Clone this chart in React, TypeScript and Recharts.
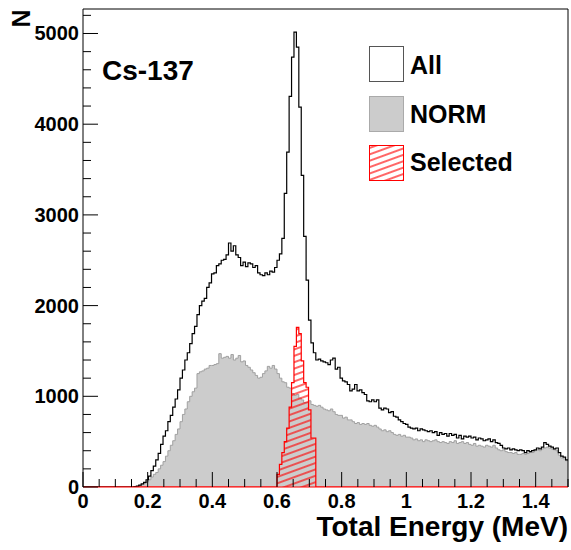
import React from "react";
import {
  ComposedChart,
  Area,
  Line,
  XAxis,
  YAxis,
  ReferenceLine,
} from "recharts";

// 200 bins of 0.0075 MeV between 0 and 1.5 MeV
const binWidth = 0.0075;
const xMax = 1.5;
const yMax = 5270;

const allCounts = [
  0, 0, 0, 0, 0, 0, 0, 0, 0, 0,
  0, 0, 0, 0, 0, 0, 0, 0, 0, 0,
  0, 5, 10, 20, 35, 50, 80, 120, 180, 230,
  300, 370, 470, 560, 620, 720, 790, 880, 970, 1070,
  1200, 1290, 1400, 1480, 1580, 1690, 1770, 1900, 2000, 2050,
  2080, 2200, 2250, 2350, 2360, 2440, 2460, 2500, 2510, 2560,
  2690, 2600, 2660, 2560, 2530, 2440, 2480, 2430, 2470, 2460,
  2420, 2440, 2360, 2340, 2330, 2360, 2340, 2380, 2370, 2420,
  2500, 2570, 2742, 3238, 3693, 4306, 4739, 5015, 4849, 4188,
  3436, 2764, 2280, 1840, 1590, 1480, 1400, 1410, 1390, 1380,
  1370, 1350, 1400, 1420, 1300, 1320, 1200, 1170, 1160, 1130,
  1060, 1080, 1130, 1060, 1070, 1040, 1020, 950, 940, 960,
  940, 960, 870, 850, 870, 860, 820, 830, 780, 770,
  740, 720, 700, 690, 660, 650, 640, 650, 620, 640,
  630, 620, 610, 620, 600, 610, 570, 600, 580, 590,
  560, 590, 570, 580, 540, 570, 530, 560, 550, 560,
  540, 550, 520, 540, 530, 510, 520, 530, 500, 520,
  490, 480, 460, 430, 420, 430, 410, 420, 410, 400,
  410, 400, 380, 400, 390, 400, 410, 430, 420, 440,
  490, 470, 450, 440, 420, 430, 380, 340, 330, 300,
];

const normCounts = [
  0, 0, 0, 0, 0, 0, 0, 0, 0, 0,
  0, 0, 0, 0, 0, 0, 0, 0, 0, 0,
  0, 3, 8, 15, 25, 40, 55, 80, 110, 140,
  160, 200, 240, 280, 340, 400, 460, 510, 580, 640,
  720, 800, 860, 940, 1000, 1050, 1090, 1250, 1270, 1280,
  1300, 1310, 1340, 1340, 1350, 1360, 1470, 1420, 1430, 1440,
  1420, 1460, 1400, 1420, 1450, 1380, 1390, 1340, 1320, 1290,
  1260, 1230, 1200, 1210, 1250, 1280, 1330, 1310, 1340, 1300,
  1250, 1200, 1160, 1150, 1100, 1090, 1030, 1010, 1020, 980,
  960, 930, 930, 950, 910, 900, 890, 900, 880, 860,
  850, 840, 860, 830, 800, 790, 790, 760, 770, 740,
  740, 720, 700, 710, 690, 700, 690, 700, 680, 670,
  680, 660, 640, 620, 630, 610, 620, 600, 580, 570,
  580, 560, 570, 550, 550, 540, 520, 530, 510, 520,
  500, 520, 510, 500, 510, 520, 500, 490, 500, 490,
  480, 500, 490, 510, 480, 490, 500, 480, 490, 470,
  460, 480, 450, 460, 450, 440, 460, 450, 440, 460,
  430, 410, 400, 410, 390, 380, 380, 370, 380, 360,
  360, 370, 360, 370, 380, 380, 400, 410, 400, 420,
  430, 440, 430, 420, 410, 400, 350, 320, 310, 290,
];

// selected window 0.6 - 0.72 MeV
const selStartBin = 80;
const selCounts = [
  140, 250, 380, 500, 650, 880, 1150, 1550,
  1760, 1690, 1390, 1150, 1100, 850, 540, 540,
];

const yTicks = [
  0, 200, 400, 600, 800, 1000, 1200, 1400, 1600, 1800, 2000, 2200, 2400,
  2600, 2800, 3000, 3200, 3400, 3600, 3800, 4000, 4200, 4400, 4600, 4800,
  5000, 5200,
];
const xTicks = [
  0, 0.05, 0.1, 0.15, 0.2, 0.25, 0.3, 0.35, 0.4, 0.45, 0.5, 0.55, 0.6, 0.65,
  0.7, 0.75, 0.8, 0.85, 0.9, 0.95, 1, 1.05, 1.1, 1.15, 1.2, 1.25, 1.3, 1.35,
  1.4, 1.45, 1.5,
];
const xLabels = ["0", "0.2", "0.4", "0.6", "0.8", "1", "1.2", "1.4"];

const data = allCounts.map((v, i) => {
  const s = i - selStartBin;
  return {
    x: +(i * binWidth).toFixed(4),
    all: v,
    norm: normCounts[i],
    sel: s >= 0 && s < selCounts.length ? selCounts[s] : 0,
  };
});
data.push({
  x: xMax,
  all: allCounts[allCounts.length - 1],
  norm: normCounts[normCounts.length - 1],
  sel: 0,
});

const W = 571;
const H = 550;
const LEFT = 83;
const BOTTOM = 487;
const FONT = "'Liberation Sans', Arial, Helvetica, sans-serif";

function YTick(props: any) {
  const { y, payload } = props;
  const v = payload.value;
  const major = v % 1000 === 0;
  return (
    <g>
      <line x1={LEFT} x2={LEFT + (major ? 15 : 8)} y1={y} y2={y} stroke="#000" strokeWidth={1} />
      {major && (
        <text x={79} y={y + 7} textAnchor="end" fontSize={20} fontWeight="bold" fontFamily={FONT} fill="#000">
          {v}
        </text>
      )}
    </g>
  );
}

function XTick(props: any) {
  const { x, payload } = props;
  const v = payload.value;
  const label = xLabels.find((l) => Math.abs(parseFloat(l) - v) < 1e-6);
  return (
    <g>
      <line x1={x} x2={x} y1={BOTTOM} y2={BOTTOM - (label ? 15 : 8)} stroke="#000" strokeWidth={1} />
      {label && (
        <text x={x} y={BOTTOM + 21} textAnchor="middle" fontSize={20} fontWeight="bold" fontFamily={FONT} fill="#000">
          {label}
        </text>
      )}
    </g>
  );
}

function HatchBox() {
  return (
    <svg width={35} height={36} style={{ position: "absolute", left: 369, top: 145 }}>
      <defs>
        <pattern id="hatchLegend" patternUnits="userSpaceOnUse" width={8} height={6} patternTransform="rotate(-20)">
          <line x1={0} y1={3} x2={8} y2={3} stroke="#ff0000" strokeWidth={1.2} />
        </pattern>
      </defs>
      <rect x={0.5} y={0.5} width={34} height={35} fill="url(#hatchLegend)" stroke="#ff0000" strokeWidth={1} />
    </svg>
  );
}

const txt: React.CSSProperties = {
  position: "absolute",
  fontFamily: FONT,
  fontWeight: "bold",
  color: "#000",
  whiteSpace: "nowrap",
  lineHeight: 1,
};

export default function App() {
  return (
    <div style={{ position: "absolute", left: 0, top: 0, width: W, height: H, background: "#fff" }}>
      <ComposedChart width={W} height={H} data={data} margin={{ top: 9, right: 3, bottom: 0, left: 0 }}>
        <defs>
          <pattern id="hatch" patternUnits="userSpaceOnUse" width={8} height={6} patternTransform="rotate(-20)">
            <line x1={0} y1={3} x2={8} y2={3} stroke="#ff0000" strokeWidth={1.2} />
          </pattern>
        </defs>
        <XAxis
          dataKey="x"
          type="number"
          domain={[0, xMax]}
          ticks={xTicks}
          interval={0}
          tick={<XTick />}
          tickLine={false}
          axisLine={{ stroke: "#ff0000", strokeWidth: 1.2 }}
          height={63}
          allowDataOverflow
        />
        <YAxis
          type="number"
          domain={[0, yMax]}
          ticks={yTicks}
          interval={0}
          tick={<YTick />}
          tickLine={false}
          axisLine={{ stroke: "#000" }}
          width={83}
          allowDataOverflow
        />
        <ReferenceLine y={yMax} stroke="#000" strokeWidth={1} />
        <ReferenceLine x={xMax} stroke="#000" strokeWidth={1} />
        <Area
          dataKey="norm"
          type="stepAfter"
          fill="#cccccc"
          fillOpacity={1}
          stroke="#a0a0a0"
          strokeWidth={1}
          isAnimationActive={false}
          dot={false}
          activeDot={false}
        />
        <Line
          dataKey="all"
          type="stepAfter"
          stroke="#000"
          strokeWidth={1.2}
          isAnimationActive={false}
          dot={false}
          activeDot={false}
        />
        <Area
          dataKey="sel"
          type="stepAfter"
          fill="url(#hatch)"
          fillOpacity={1}
          stroke="#ff0000"
          strokeWidth={1.2}
          isAnimationActive={false}
          dot={false}
          activeDot={false}
        />
      </ComposedChart>

      <div style={{ ...txt, fontSize: 25, left: 12, top: 6, transform: "rotate(-90deg)", transformOrigin: "center" }}>N</div>
      <div style={{ ...txt, fontSize: 28, left: 102, top: 57 }}>Cs-137</div>

      <div style={{ position: "absolute", left: 369, top: 46, width: 33, height: 34, border: "1px solid #555", background: "#fff" }} />
      <div style={{ ...txt, fontSize: 25, left: 410, top: 53 }}>All</div>
      <div style={{ position: "absolute", left: 369, top: 96, width: 33, height: 34, border: "1px solid #aaa", background: "#cccccc" }} />
      <div style={{ ...txt, fontSize: 25, left: 410, top: 102 }}>NORM</div>
      <HatchBox />
      <div style={{ ...txt, fontSize: 25, left: 410, top: 150 }}>Selected</div>

      <div style={{ ...txt, fontSize: 28, right: 3, top: 513 }}>Total Energy (MeV)</div>
    </div>
  );
}
